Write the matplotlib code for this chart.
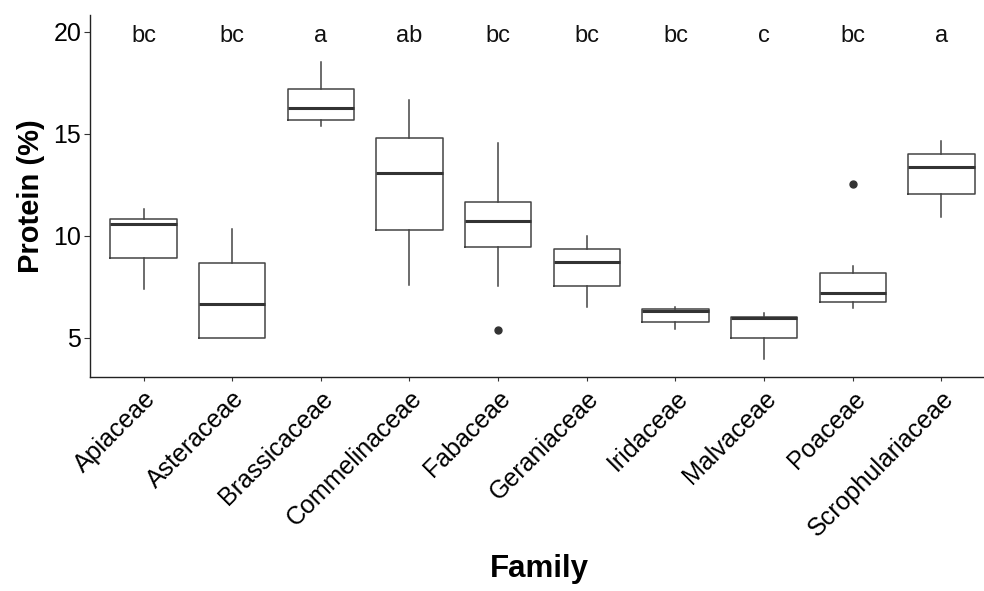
import matplotlib
matplotlib.use("Agg")
import matplotlib.pyplot as plt
from matplotlib.transforms import ScaledTranslation

plt.rcParams['font.family'] = ['Liberation Sans', 'DejaVu Sans']

# protein content (%) per plant family: box summary values
families = ['Apiaceae', 'Asteraceae', 'Brassicaceae', 'Commelinaceae', 'Fabaceae',
            'Geraniaceae', 'Iridaceae', 'Malvaceae', 'Poaceae', 'Scrophulariaceae']
whisk_lo = [7.37, 4.97, 15.39, 7.58, 7.53, 6.49, 5.43, 3.96, 6.47, 10.90]
q1       = [8.92, 4.97, 15.66, 10.28, 9.46, 7.53, 5.77, 4.97, 6.74, 12.04]
median   = [10.57, 6.64, 16.27, 13.07, 10.74, 8.71, 6.31, 5.98, 7.19, 13.38]
q3       = [10.83, 8.66, 17.19, 14.80, 11.65, 9.33, 6.41, 6.01, 8.19, 13.99]
whisk_hi = [11.29, 10.31, 18.51, 16.67, 14.56, 9.97, 6.52, 6.20, 8.53, 14.63]
outliers = [[], [], [], [], [5.38], [], [], [], [12.53], []]
letters  = ['bc', 'bc', 'a', 'ab', 'bc', 'bc', 'bc', 'c', 'bc', 'a']

stats = []
for i in range(len(families)):
    stats.append(dict(whislo=whisk_lo[i], q1=q1[i], med=median[i], q3=q3[i],
                      whishi=whisk_hi[i], fliers=outliers[i]))

fig = plt.figure(figsize=(9.84, 5.91), dpi=100)
ax = fig.add_axes([0.0918, 0.3626, 0.9082, 0.612])

pos = list(range(1, len(families) + 1))
ax.bxp(stats, positions=pos, widths=0.75, showcaps=False, patch_artist=False,
       boxprops=dict(color='#444444', linewidth=1.1),
       whiskerprops=dict(color='#444444', linewidth=1.1),
       medianprops=dict(color='#333333', linewidth=2.2),
       flierprops=dict(marker='o', markersize=5, markerfacecolor='#333333',
                       markeredgecolor='#333333'))

# significance letters
for p, lab in zip(pos, letters):
    ax.text(p, 19.8, lab, ha='center', va='center', fontsize=17, color='#111111')

ax.set_xlim(0.4, 10.48)
ax.set_ylim(3.09, 20.82)
ax.set_yticks([5, 10, 15, 20])
ax.set_xticks(pos)
ax.set_xticklabels(families, rotation=45, ha='right', va='top',
                   rotation_mode='anchor', fontsize=18)
shift = ScaledTranslation(11 / 100, -3 / 100, fig.dpi_scale_trans)
for lbl in ax.get_xticklabels():
    lbl.set_transform(lbl.get_transform() + shift)
ax.tick_params(axis='y', labelsize=18, length=4.5, width=0.8, color='#333333', pad=2)
ax.tick_params(axis='x', length=3, width=0.8, color='#333333', pad=4)

for s in ['top', 'right']:
    ax.spines[s].set_visible(False)
for s in ['left', 'bottom']:
    ax.spines[s].set_linewidth(1.0)
    ax.spines[s].set_color('#222222')

ax.set_ylabel('Protein (%)', fontsize=21, fontweight='bold', labelpad=6)
ax.set_xlabel('Family', fontsize=22.5, fontweight='bold')
ax.xaxis.set_label_coords(0.503, -0.49)

fig.savefig('out.png', dpi=100)
